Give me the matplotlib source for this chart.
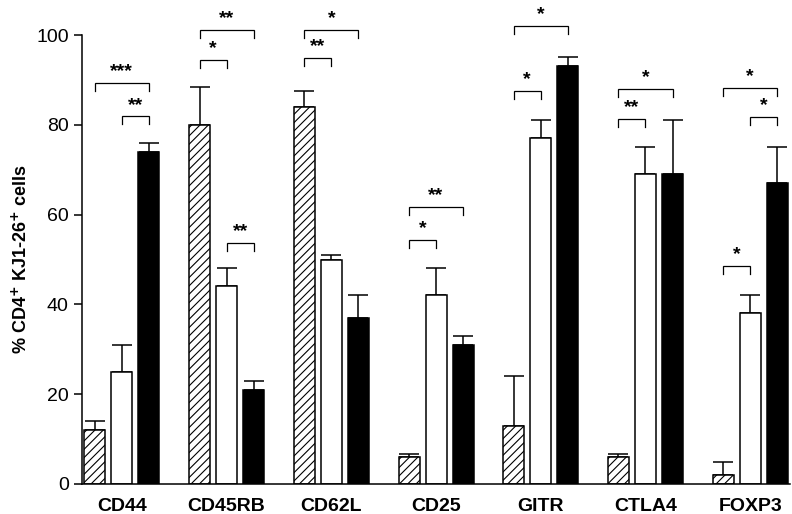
import matplotlib
matplotlib.use("Agg")
import matplotlib.pyplot as plt
import numpy as np

plt.rcParams['font.family'] = ['Liberation Sans', 'DejaVu Sans']
plt.rcParams['hatch.linewidth'] = 0.8

categories = ["CD44", "CD45RB", "CD62L", "CD25", "GITR", "CTLA4", "FOXP3"]
hatched_vals = [12, 80, 84, 6, 13, 6, 2]
hatched_err = [2, 8.5, 3.5, 0.6, 11, 0.6, 3]
white_vals = [25, 44, 50, 42, 77, 69, 38]
white_err = [6, 4, 1, 6, 4, 6, 4]
black_vals = [74, 21, 37, 31, 93, 69, 67]
black_err = [2, 2, 5, 2, 2, 12, 8]

# significance brackets: (group, first bar, second bar, height, label)
br_group = [0, 0, 1, 1, 1, 2, 2, 3, 3, 4, 4, 5, 5, 6, 6, 6]
br_first = [0, 1, 0, 0, 1, 0, 0, 0, 0, 0, 0, 0, 0, 0, 1, 0]
br_second = [2, 2, 1, 2, 2, 1, 2, 1, 2, 1, 2, 1, 2, 2, 2, 1]
br_height = [89.3, 81.9, 94.4, 101.2, 53.7, 94.9, 101.2, 54.3, 61.7,
             87.5, 102.0, 81.3, 88.0, 88.3, 81.7, 48.6]
br_label = ["***", "**", "*", "**", "**", "**", "*", "*", "**",
            "*", "*", "**", "*", "*", "*", "*"]

fig = plt.figure(figsize=(7.92, 5.14), dpi=100)
ax = fig.add_axes([0.1035, 0.0584, 0.894, 0.9416])

x = np.arange(len(categories))
step = 0.258
w = 0.2
offsets = [-step, 0, step]
ekw = dict(elinewidth=1.1, capthick=1.1, capsize=7, ecolor='black')
lw = 1.1

ax.bar(x - step, hatched_vals, w, color='white', edgecolor='black', hatch='////',
       linewidth=lw, zorder=2)
ax.errorbar(x - step, hatched_vals, yerr=[np.zeros(len(x)), hatched_err],
            fmt='none', zorder=1, **ekw)
ax.bar(x, white_vals, w, color='white', edgecolor='black', linewidth=lw, zorder=2)
ax.errorbar(x, white_vals, yerr=[np.zeros(len(x)), white_err],
            fmt='none', zorder=1, **ekw)
ax.bar(x + step, black_vals, w, color='black', edgecolor='black', linewidth=lw, zorder=2)
ax.errorbar(x + step, black_vals, yerr=[np.zeros(len(x)), black_err],
            fmt='none', zorder=1, **ekw)

leg = 1.8
for g, a, b, h, lab in zip(br_group, br_first, br_second, br_height, br_label):
    x1 = g + offsets[a]
    x2 = g + offsets[b]
    ax.plot([x1, x1, x2, x2], [h - leg, h, h, h - leg], color='black', lw=0.9,
            solid_joinstyle='miter', zorder=3)
    ax.text((x1 + x2) / 2, h + 0.6, lab, ha='center', va='bottom',
            fontsize=14, fontweight='bold', zorder=3)

ax.set_xlim(-0.381, 6.38)
ax.set_ylim(0, 107.8)
ax.set_yticks([0, 20, 40, 60, 80, 100])
ax.tick_params(axis='y', labelsize=14, length=6, width=1.1, direction='out')
ax.set_xticks(x)
ax.set_xticklabels(categories, fontsize=14, fontweight='bold')
ax.tick_params(axis='x', length=0, pad=10)
ax.spines['top'].set_visible(False)
ax.spines['right'].set_visible(False)
ax.spines['left'].set_bounds(0, 100)
ax.spines['left'].set_linewidth(1.1)
ax.spines['bottom'].set_linewidth(1.1)
ax.set_ylabel(r'% CD4$^{\mathbf{+}}$ KJ1-26$^{\mathbf{+}}$ cells', fontsize=13,
              fontweight='bold', labelpad=4)
ax.yaxis.label.set_y(50 / 107.8)

fig.savefig('out.png', dpi=100)
